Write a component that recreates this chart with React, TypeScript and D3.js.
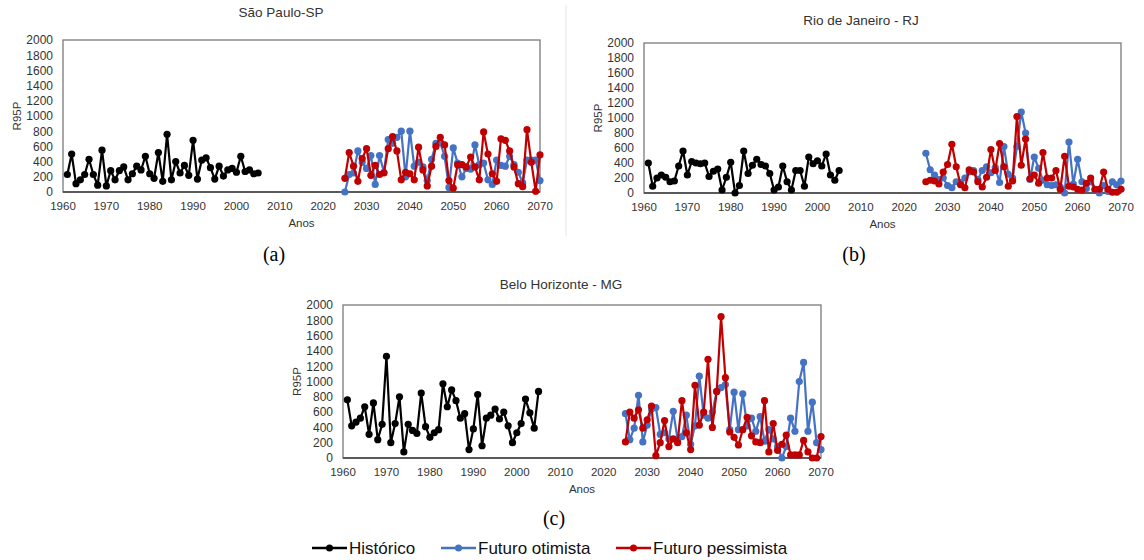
import React, { useEffect, useRef } from "react";
import * as d3 from "d3";

// anos
const histYears = d3.range(1961, 2006);
const futYears = d3.range(2025, 2071);
const xTicks = d3.range(1960, 2071, 10);
const yTicks = d3.range(0, 2001, 200);

// São Paulo
const spHist = [230,500,110,160,230,430,230,90,550,80,280,160,280,330,160,240,340,290,470,240,180,520,140,760,160,400,250,350,220,680,170,420,450,320,170,340,210,290,310,260,470,270,290,240,250];
const spOtim = [0,230,250,540,390,310,480,100,480,260,690,640,720,800,200,800,340,390,330,150,430,640,650,470,60,580,380,200,310,300,620,360,380,160,100,420,350,340,470,360,260,120,420,420,420,150];
const spPess = [180,520,340,140,440,570,220,350,230,250,570,730,540,160,260,240,160,590,290,80,340,600,720,620,150,50,360,360,330,460,330,160,790,500,240,140,700,680,540,330,110,70,820,390,10,490];

// Rio de Janeiro
const rjHist = [400,90,200,240,210,150,160,360,560,240,420,400,390,400,220,290,320,40,210,410,0,100,560,260,370,450,380,360,260,40,80,360,150,40,300,300,90,480,390,430,360,520,240,170,300];
const rjOtim = [530,310,240,180,200,100,70,150,140,200,280,300,180,300,350,270,340,140,620,250,200,620,1080,800,180,480,330,170,110,100,110,80,0,680,120,450,150,60,150,40,0,100,20,150,110,160];
const rjPess = [150,170,160,120,280,380,650,350,110,70,310,280,150,80,210,580,300,660,350,90,160,1020,370,720,190,240,130,540,200,200,300,50,490,90,80,50,40,130,200,50,50,280,50,10,10,50];

// Belo Horizonte
const bhHist = [760,420,470,520,670,310,720,240,440,1330,200,450,800,80,440,360,320,850,410,270,330,370,970,670,890,750,520,580,110,380,830,160,520,560,640,510,600,420,200,330,450,770,590,390,870];
const bhOtim = [580,240,390,820,210,430,640,660,310,330,250,610,240,280,560,180,420,1070,560,520,600,870,920,960,370,860,370,840,420,520,350,540,220,370,250,150,0,150,520,350,1000,1250,350,730,200,110];
const bhPess = [210,600,520,630,390,500,680,30,200,490,150,250,200,750,330,110,950,430,600,1290,400,870,1850,1050,340,270,170,370,530,290,210,200,750,80,450,100,180,300,40,40,40,230,80,0,0,280];

const seriesNames = ["Histórico", "Futuro otimista", "Futuro pessimista"];
const colors = ["#000000", "#4472C4", "#C00000"];

const panels = [
  { title: "São Paulo-SP", tag: "(a)", data: [spHist, spOtim, spPess], left: 63, right: 540, top: 40, bottom: 192, titleX: 281, titleY: 17, tagX: 274, tagY: 261 },
  { title: "Rio de Janeiro - RJ", tag: "(b)", data: [rjHist, rjOtim, rjPess], left: 644, right: 1121, top: 43, bottom: 193, titleX: 861, titleY: 25, tagX: 854, tagY: 261 },
  { title: "Belo Horizonte - MG", tag: "(c)", data: [bhHist, bhOtim, bhPess], left: 343, right: 821, top: 305, bottom: 458, titleX: 561, titleY: 289, tagX: 554, tagY: 525 },
];

const legendPos = [312, 441, 616];

const App = () => {
  const svgRef = useRef<SVGSVGElement>(null);

  useEffect(() => {
    const svg = d3.select(svgRef.current);
    svg.selectAll("*").remove();
    const font = "'Liberation Sans', Arial, sans-serif";

    svg.append("rect").attr("width", 1144).attr("height", 560).attr("fill", "#fff");

    // separador entre (a) e (b)
    svg.append("line")
      .attr("x1", 566).attr("x2", 566).attr("y1", 5).attr("y2", 236)
      .attr("stroke", "#e4e4e4").attr("stroke-width", 1);

    panels.forEach(p => {
      const x = d3.scaleLinear().domain([1960, 2070]).range([p.left, p.right]);
      const y = d3.scaleLinear().domain([0, 2000]).range([p.bottom, p.top]);
      const g = svg.append("g");

      g.append("rect")
        .attr("x", p.left).attr("y", p.top)
        .attr("width", p.right - p.left).attr("height", p.bottom - p.top)
        .attr("fill", "none").attr("stroke", "#7a7a7a").attr("stroke-width", 1.3);
      g.append("line")
        .attr("x1", p.left).attr("x2", p.right).attr("y1", p.bottom).attr("y2", p.bottom)
        .attr("stroke", "#404040").attr("stroke-width", 1.5);

      g.selectAll(".yt").data(yTicks).enter().append("text")
        .attr("x", p.left - 10).attr("y", d => y(d))
        .attr("dy", "0.36em").attr("text-anchor", "end")
        .attr("font-family", font).attr("font-size", 12).attr("fill", "#333")
        .text(d => d);

      g.selectAll(".xt").data(xTicks).enter().append("text")
        .attr("x", d => x(d)).attr("y", p.bottom + 18)
        .attr("text-anchor", "middle")
        .attr("font-family", font).attr("font-size", 11.5).attr("fill", "#333")
        .text(d => d);

      g.append("text")
        .attr("x", (p.left + p.right) / 2).attr("y", p.bottom + 35)
        .attr("text-anchor", "middle")
        .attr("font-family", font).attr("font-size", 11.5).attr("fill", "#333")
        .text("Anos");

      g.append("text")
        .attr("transform", `translate(${p.left - 46},${(p.top + p.bottom) / 2}) rotate(-90)`)
        .attr("dy", "0.36em").attr("text-anchor", "middle")
        .attr("font-family", font).attr("font-size", 11.5).attr("fill", "#333")
        .text("R95P");

      g.append("text")
        .attr("x", p.titleX).attr("y", p.titleY)
        .attr("text-anchor", "middle")
        .attr("font-family", font).attr("font-size", 13.5).attr("fill", "#333")
        .text(p.title);

      g.append("text")
        .attr("x", p.tagX).attr("y", p.tagY)
        .attr("text-anchor", "middle")
        .attr("font-family", "'Liberation Serif', 'Times New Roman', serif").attr("font-size", 20).attr("fill", "#000")
        .text(p.tag);

      const line = d3.line<{ yr: number; v: number }>()
        .x(d => x(d.yr))
        .y(d => y(d.v));

      p.data.forEach((vals, i) => {
        const yrs = i === 0 ? histYears : futYears;
        const pts = vals.map((v, k) => ({ yr: yrs[k], v }));
        g.append("path")
          .datum(pts)
          .attr("fill", "none")
          .attr("stroke", colors[i])
          .attr("stroke-width", 2.2)
          .attr("stroke-linejoin", "round")
          .attr("d", line);
        g.selectAll(`.dot-${i}`)
          .data(pts)
          .enter()
          .append("circle")
          .attr("cx", d => x(d.yr))
          .attr("cy", d => y(d.v))
          .attr("r", 3.6)
          .attr("fill", colors[i]);
      });
    });

    // legenda
    seriesNames.forEach((name, i) => {
      const lx = legendPos[i];
      const ly = 548;
      svg.append("line")
        .attr("x1", lx).attr("x2", lx + 35).attr("y1", ly).attr("y2", ly)
        .attr("stroke", colors[i]).attr("stroke-width", 2.5);
      svg.append("circle")
        .attr("cx", lx + 17.5).attr("cy", ly).attr("r", 3.5)
        .attr("fill", colors[i]);
      svg.append("text")
        .attr("x", lx + 37).attr("y", ly)
        .attr("dy", "0.36em")
        .attr("font-family", font).attr("font-size", 17).attr("fill", "#111")
        .text(name);
    });
  }, []);

  return (
    <svg
      ref={svgRef}
      width={1144}
      height={560}
      style={{ position: "absolute", left: 0, top: 0 }}
    ></svg>
  );
};

export default App;
